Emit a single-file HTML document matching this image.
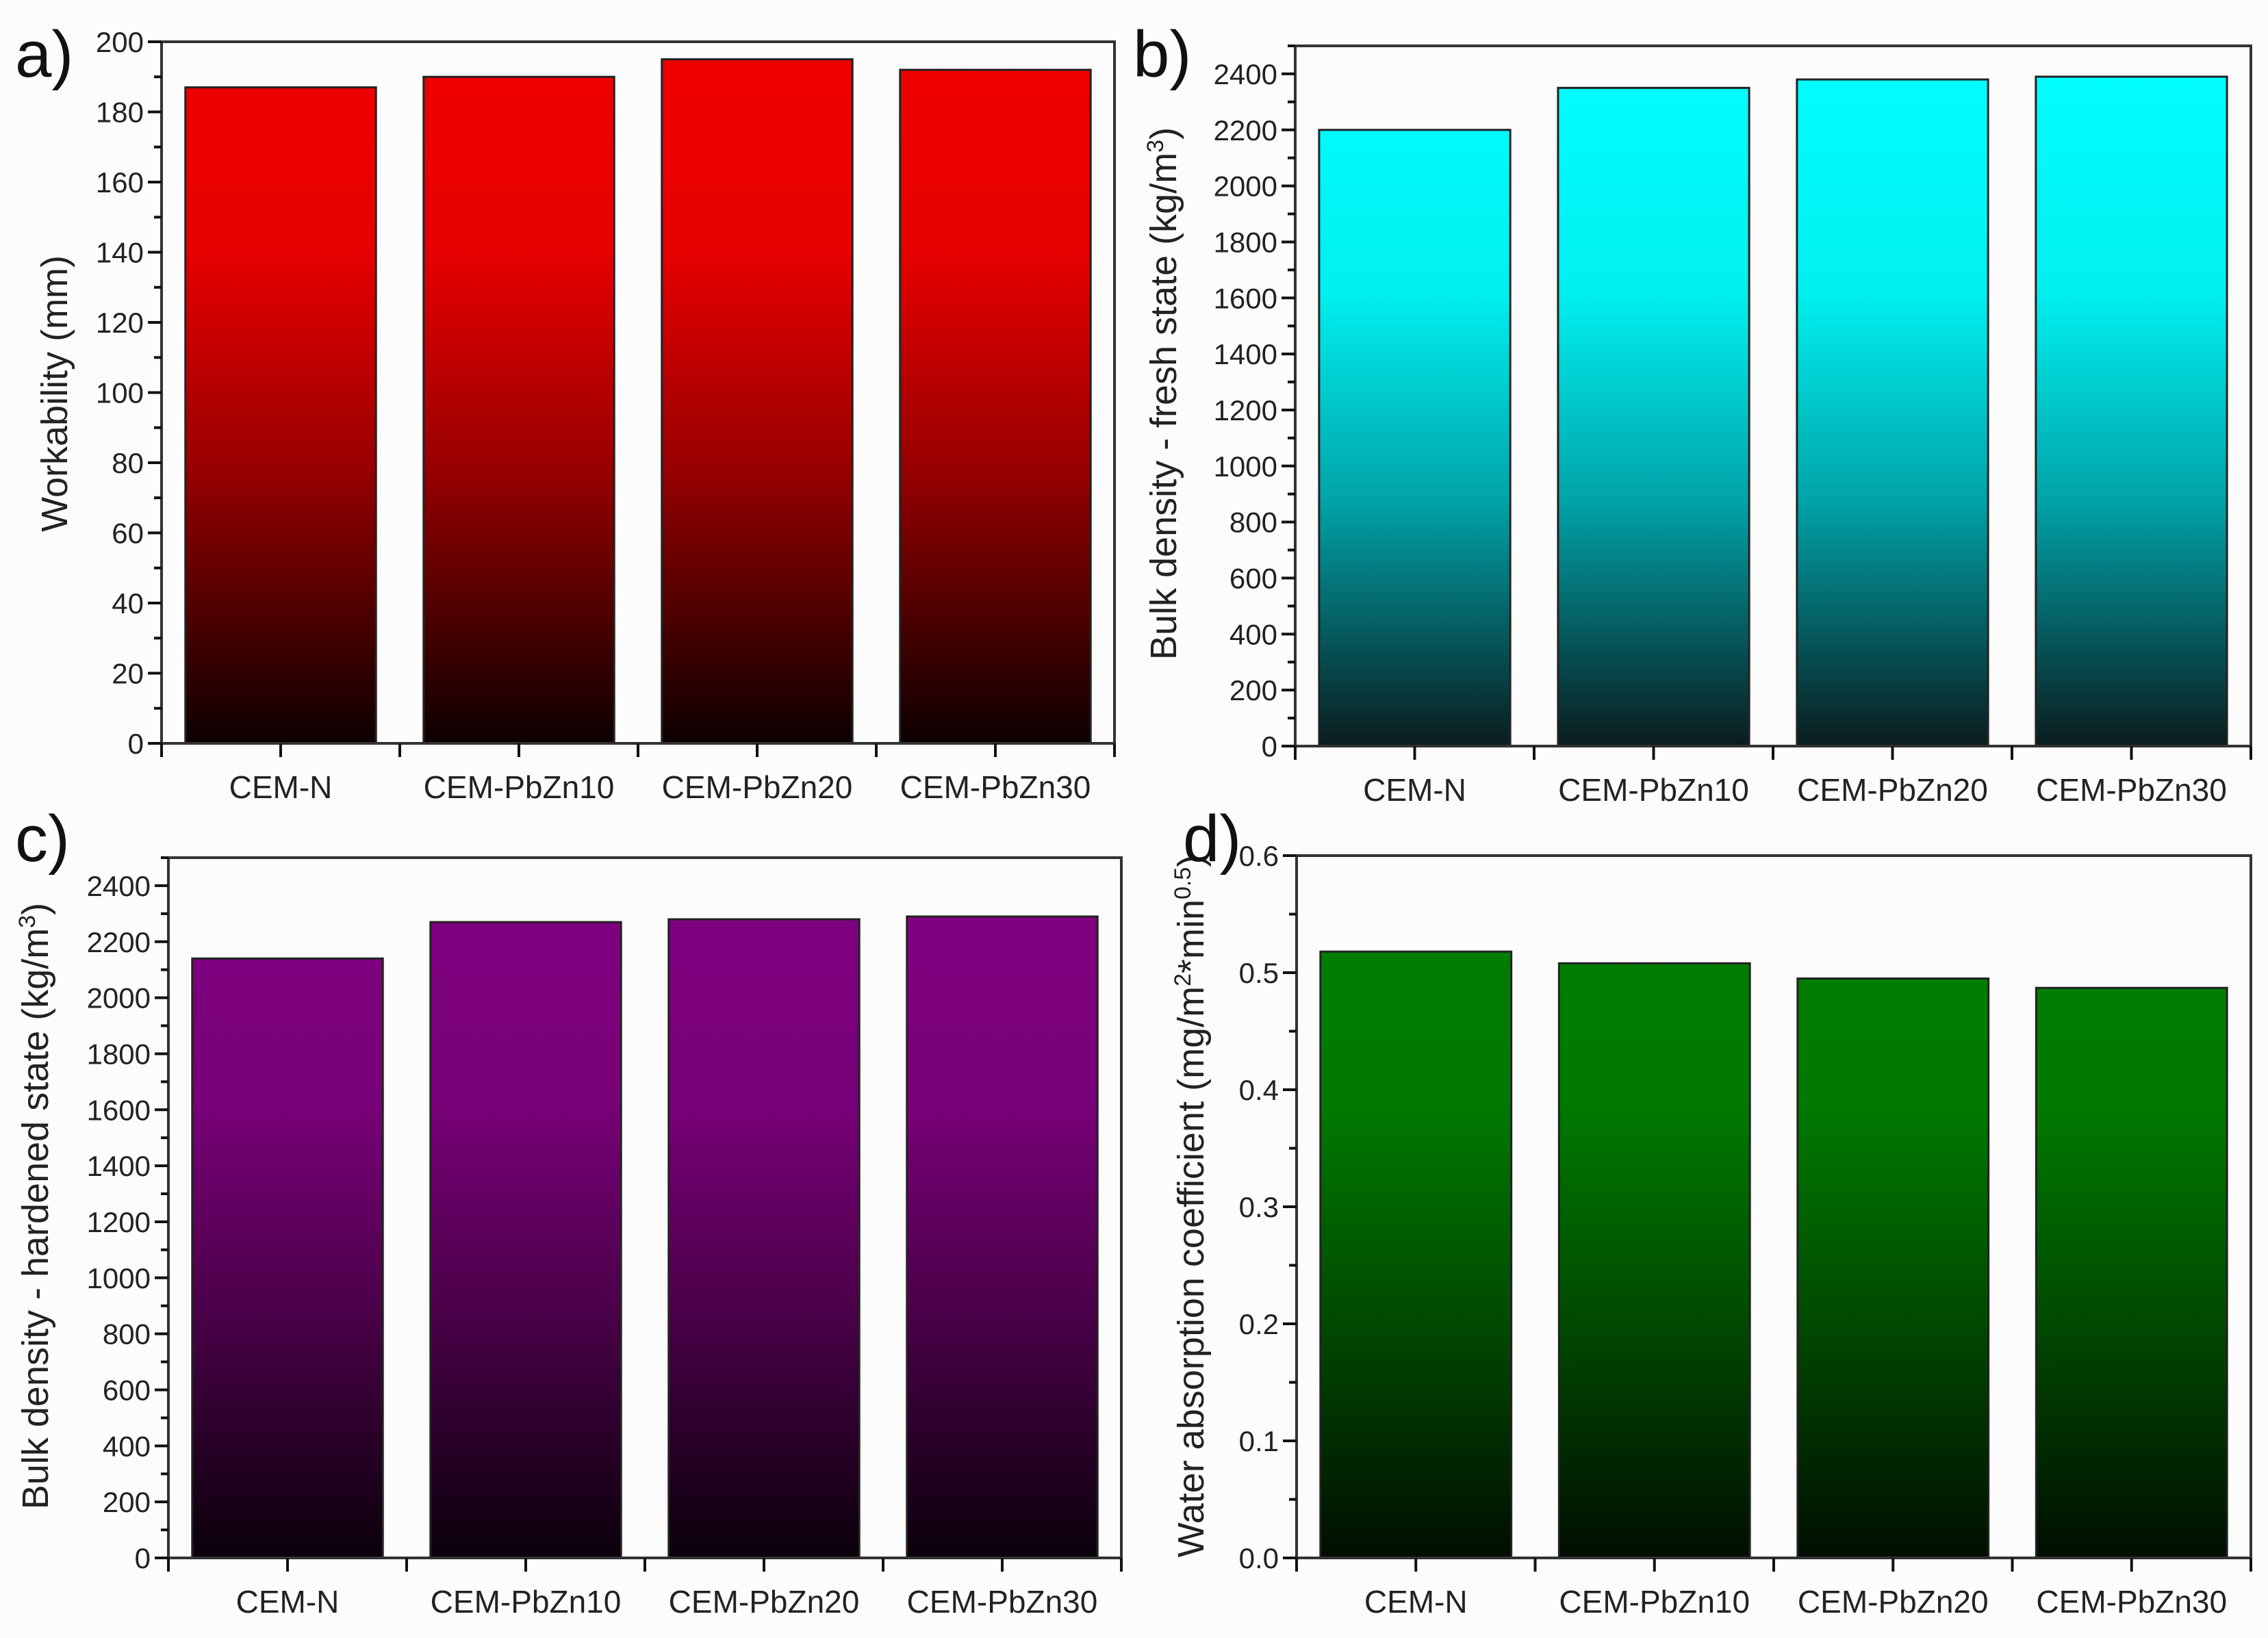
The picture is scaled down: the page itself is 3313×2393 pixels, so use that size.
<!DOCTYPE html>
<html><head><meta charset="utf-8"><style>
html,body{margin:0;padding:0;background:#fcfcfc;}
svg{display:block;font-family:"Liberation Sans",Arial,sans-serif;}
</style></head><body>
<svg id="fig" width="3313" height="2393" viewBox="0 0 3313 2393" xmlns="http://www.w3.org/2000/svg">
<defs>
<linearGradient id="gRed" x1="0" y1="0" x2="0" y2="1"><stop offset="0" stop-color="#f00000"/><stop offset="0.3" stop-color="#e60000"/><stop offset="0.6" stop-color="#9a0000"/><stop offset="1" stop-color="#0c0000"/></linearGradient>
<linearGradient id="gCyan" x1="0" y1="0" x2="0" y2="1"><stop offset="0" stop-color="#00ffff"/><stop offset="0.35" stop-color="#00f0f0"/><stop offset="0.65" stop-color="#00a3a8"/><stop offset="1" stop-color="#0a1c1e"/></linearGradient>
<linearGradient id="gPurp" x1="0" y1="0" x2="0" y2="1"><stop offset="0" stop-color="#820082"/><stop offset="0.35" stop-color="#780078"/><stop offset="0.65" stop-color="#4a0048"/><stop offset="1" stop-color="#0a000a"/></linearGradient>
<linearGradient id="gGreen" x1="0" y1="0" x2="0" y2="1"><stop offset="0" stop-color="#008000"/><stop offset="0.35" stop-color="#007a00"/><stop offset="0.65" stop-color="#004c00"/><stop offset="1" stop-color="#000e00"/></linearGradient>
</defs>
</svg>
<script>
const categories = ["CEM-N","CEM-PbZn10","CEM-PbZn20","CEM-PbZn30"];
const workability = [187,190,195,192];
const freshDensity = [2200,2350,2380,2390];
const hardenedDensity = [2140,2270,2280,2290];
const waterAbsorption = [0.518,0.508,0.495,0.487];
const ticksA = [0,20,40,60,80,100,120,140,160,180,200];
const ticksB = [0,200,400,600,800,1000,1200,1400,1600,1800,2000,2200,2400];
const ticksC = [0,200,400,600,800,1000,1200,1400,1600,1800,2000,2200,2400];
const ticksD = [0.0,0.1,0.2,0.3,0.4,0.5,0.6];

const NS = "http://www.w3.org/2000/svg";
const svg = document.getElementById('fig');
function mk(tag, attrs, parent){
  const e = document.createElementNS(NS, tag);
  for (const k in attrs) e.setAttribute(k, attrs[k]);
  (parent||svg).appendChild(e);
  return e;
}

const panels = [
  {id:'a', L:236, R:1628, T:61, B:1086, max:200, ticks:ticksA, minor:10, vals:workability, grad:'gRed', fmt:v=>String(v),
   title:'Workability (mm)', tx:80, ty:575, letter:'a)', lx:22, ly:112},
  {id:'b', L:1892, R:3288, T:67, B:1090, max:2500, ticks:ticksB, minor:100, vals:freshDensity, grad:'gCyan', fmt:v=>String(v),
   title:'Bulk density - fresh state (kg/m<tspan baseline-shift="super" font-size="34">3</tspan>)', tx:1700, ty:575, letter:'b)', lx:1655, ly:112},
  {id:'c', L:246, R:1638, T:1253, B:2276, max:2500, ticks:ticksC, minor:100, vals:hardenedDensity, grad:'gPurp', fmt:v=>String(v),
   title:'Bulk density - hardened state (kg/m<tspan baseline-shift="super" font-size="34">3</tspan>)', tx:52, ty:1762, letter:'c)', lx:22, ly:1258},
  {id:'d', L:1894, R:3288, T:1250, B:2276, max:0.6, ticks:ticksD, minor:0.05, vals:waterAbsorption, grad:'gGreen', fmt:v=>v.toFixed(1),
   title:'Water absorption coefficient (mg/m<tspan baseline-shift="super" font-size="34">2</tspan>*min<tspan baseline-shift="super" font-size="34">0.5</tspan>)', tx:1740, ty:1762, letter:'d)', lx:1728, ly:1258}
];

panels.forEach(p => {
  const g = mk('g', {});
  
  
  const y = v => p.B - (v / p.max) * (p.B - p.T);
  const band = (p.R - p.L) / categories.length;
  const x = i => p.L + band * (i + 0.5);
  const bw = band * 0.8;
  const gid = 'u' + p.id;
  const lg = mk('linearGradient', {id:gid, gradientUnits:'userSpaceOnUse', x1:0, y1:p.T, x2:0, y2:p.B}, svg.querySelector('defs'));
  document.getElementById(p.grad).querySelectorAll('stop').forEach(s => lg.appendChild(s.cloneNode()));
  p.vals.forEach((v, i) => {
    const r = mk('rect', {x:x(i)-bw/2, y:y(v), width:bw, height:p.B - y(v), fill:'url(#'+gid+')', stroke:'#222', 'stroke-width':3}, g);
    
    
  });
  const f = mk('rect', {x:p.L, y:p.T, width:p.R-p.L, height:p.B-p.T, fill:'none', stroke:'#333', 'stroke-width':4}, g);
  
  
  const yAxis = mk('g', {}, g);
  
  
  for (let v = 0; v <= p.max + 1e-9; v += p.minor) {
    const isMaj = p.ticks.some(t => Math.abs(t - v) < 1e-9);
    mk('line', {x1:p.L, x2:p.L - (isMaj ? 20 : 11), y1:y(v), y2:y(v), stroke:'#111', 'stroke-width':4}, yAxis);
  }
  p.ticks.forEach(t => {
    const tl = mk('text', {x:p.L - 26, y:y(t) + 15, 'text-anchor':'end', 'font-size':42, fill:'#222'}, yAxis);
    tl.textContent = p.fmt(t);
    
    
  });
  const xAxis = mk('g', {}, g);
  
  
  for (let k = 0; k <= categories.length * 2; k++) {
    const xx = p.L + band * k / 2;
    mk('line', {x1:xx, x2:xx, y1:p.B, y2:p.B + 20, stroke:'#111', 'stroke-width':4}, xAxis);
  }
  categories.forEach((c, i) => {
    const t = mk('text', {x:x(i), y:p.B + 80, 'text-anchor':'middle', 'font-size':46, fill:'#222'}, xAxis);
    t.textContent = c;
    
    
  });
  const at = mk('text', {x:0, y:0, 'text-anchor':'middle', 'font-size':54, fill:'#222', transform:'translate('+(p.tx+18)+','+p.ty+') rotate(-90)'}, g);
  at.innerHTML = p.title;
  
  
  const pl = mk('text', {x:p.lx, y:p.ly, 'font-size':96, fill:'#111'}, g);
  pl.textContent = p.letter;
  
  
});
</script>
</body></html>
